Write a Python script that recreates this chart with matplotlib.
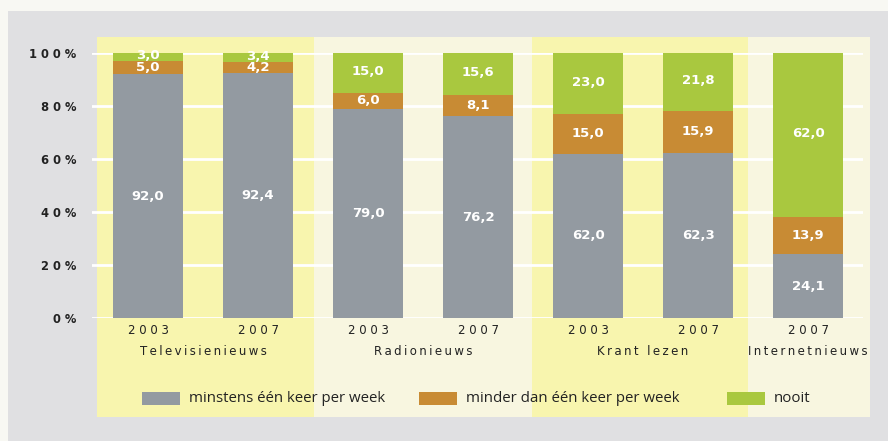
import matplotlib.pyplot as plt
from matplotlib.patches import Rectangle
import numpy as np

# Data
years = ["2003", "2007", "2003", "2007", "2003", "2007", "2007"]
groups = ["Televisienieuws", "Radionieuws", "Krant lezen", "Internetnieuws"]
weekly = [92.0, 92.4, 79.0, 76.2, 62.0, 62.3, 24.1]
less = [5.0, 4.2, 6.0, 8.1, 15.0, 15.9, 13.9]
never = [3.0, 3.4, 15.0, 15.6, 23.0, 21.8, 62.0]
series_names = ["minstens één keer per week", "minder dan één keer per week", "nooit"]

c_gray = "#939aa1"
c_orange = "#c88b34"
c_green = "#a9c83f"
c_yellow = "#f8f5ae"
c_cream = "#f8f6e0"


def spaced(s, sep=" "):
    # imitate the wide letter spacing of the original typeface
    return sep.join(s)


fig = plt.figure(figsize=(8.88, 4.41), dpi=100)
fig.patch.set_facecolor("#f8f8f3")
# gray panel behind everything
fig.patches.append(Rectangle((8 / 888, 0), 1, 1 - 11 / 441, transform=fig.transFigure,
                             facecolor="#e0e0e2", edgecolor="none", zorder=-5))

ax = fig.add_axes([92 / 888, 1 - 318 / 441, 771 / 888, 265 / 441])
ax.set_facecolor("none")
ax.set_zorder(1)
ax.set_xlim(-0.51, 6.5)
ax.set_ylim(0, 100)

# alternating background bands
bands = [(-0.465, 1.51, c_yellow), (1.51, 3.49, c_cream), (3.49, 5.45, c_yellow), (5.45, 6.565, c_cream)]
for x0, x1, col in bands:
    ax.add_patch(Rectangle((x0, -37.4), x1 - x0, 143.4, facecolor=col, edgecolor="none",
                           clip_on=False, zorder=0))

for v in range(0, 101, 20):
    ax.axhline(v, color="white", lw=2, zorder=1)

x = np.arange(len(years))
w = 0.636
weekly = np.array(weekly)
less = np.array(less)
never = np.array(never)
ax.bar(x, weekly, w, color=c_gray, zorder=2, label=series_names[0])
ax.bar(x, less, w, bottom=weekly, color=c_orange, zorder=2, label=series_names[1])
ax.bar(x, never, w, bottom=weekly + less, color=c_green, zorder=2, label=series_names[2])


def fmt(v):
    return "{:.1f}".format(v).replace(".", ",")


lab = dict(ha="center", va="center", color="white", fontsize=9.5, fontweight="bold", zorder=3)
for i in x:
    ax.text(i, weekly[i] / 2, fmt(weekly[i]), **lab)
    ax.text(i, weekly[i] + less[i] / 2, fmt(less[i]), **lab)
    ax.text(i, weekly[i] + less[i] + never[i] / 2 + 0.5, fmt(never[i]), **lab)

for s in ax.spines.values():
    s.set_visible(False)
ax.set_yticks(range(0, 101, 20))
ax.set_yticklabels([spaced("{}%".format(v)) for v in range(0, 101, 20)], fontsize=8.3,
                   fontweight="bold", color="#222222")
ax.tick_params(axis="y", length=0, pad=11.5)
ax.set_xticks(x)
ax.set_xticklabels([spaced(y) for y in years], fontsize=8.5, color="#222222")
ax.tick_params(axis="x", length=0, pad=4)

group_pos = [0.5, 2.5, 4.5, 6.0]
for gx, name in zip(group_pos, groups):
    ax.text(gx, -12.5, spaced(name, "\u2009"), ha="center", va="center", fontsize=8.5,
            color="#222222")

# legend
legend_x = [142, 419, 727]
cols = [c_gray, c_orange, c_green]
for lx, col, name in zip(legend_x, cols, series_names):
    ax.add_patch(Rectangle((lx / 888, 1 - 405 / 441), 38 / 888, 13 / 441, transform=fig.transFigure,
                           facecolor=col, edgecolor="none", clip_on=False, zorder=3))
    ax.text((lx + 47) / 888, 1 - 398 / 441, name, ha="left", va="center", fontsize=10.8,
            family="Open Sans", color="#222222", transform=fig.transFigure)

fig.savefig("out.png", dpi=100, facecolor=fig.get_facecolor())
